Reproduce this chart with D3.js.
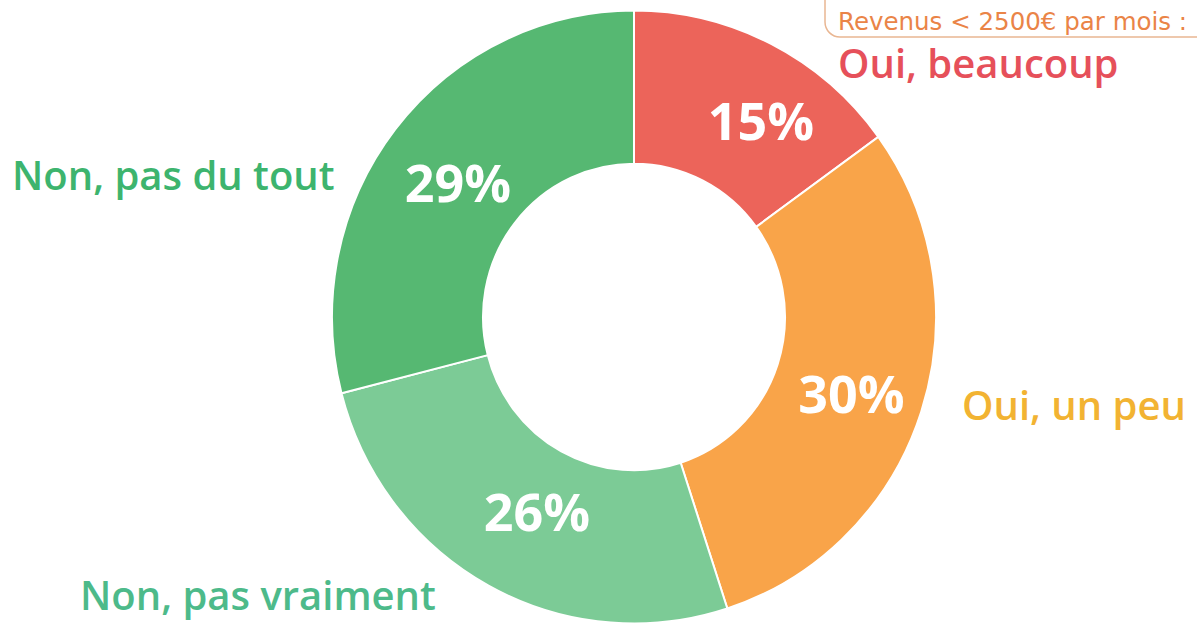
<!DOCTYPE html>
<html>
<head>
<meta charset="utf-8">
<script src="https://cdn.jsdelivr.net/npm/d3@7"></script>
<style>
  body { margin: 0; background: #fff; }
  svg { display: block; }
</style>
</head>
<body>
<div id="chart"></div>
<script>
// donut: "Revenus < 2500€ par mois"
const categories = ["Oui, beaucoup", "Oui, un peu", "Non, pas vraiment", "Non, pas du tout"];
const values = [15, 30, 26, 29];
const title = "Revenus < 2500€ par mois :";

const width = 1197, height = 626;
const cx = 634, cy = 317;
const outerR = 302, innerR = 151;

const sliceColor = d3.scaleOrdinal()
    .domain(categories)
    .range(["#ec645a", "#f9a449", "#7ccb96", "#56b872"]);
const labelColor = d3.scaleOrdinal()
    .domain(categories)
    .range(["#e6505a", "#f2b332", "#4dba8a", "#3db46e"]);

// where the category names sit (x, y baseline)
const labelPos = {
    "Oui, beaucoup": [838, 78],
    "Oui, un peu": [962, 420],
    "Non, pas vraiment": [80, 610],
    "Non, pas du tout": [12, 190]
};
// small hand nudges of the % labels away from the centroid
const pctNudge = {
    "Oui, beaucoup": [24, 6],
    "Oui, un peu": [2, 7],
    "Non, pas vraiment": [12, -3],
    "Non, pas du tout": [3, 5]
};

let svg = d3.select("#chart")
    .append("svg")
    .attr("width", width)
    .attr("height", height);

let g = svg.append("g")
    .attr("transform", `translate(${cx}, ${cy})`);

let pie = d3.pie().sort(null).value(d => d.value);
let arc = d3.arc().innerRadius(innerR).outerRadius(outerR);

let data = categories.map((c, i) => ({name: c, value: values[i]}));
let arcs = pie(data);

// ring is a touch taller than wide in the original
g.append("g")
    .attr("transform", "scale(1, 1.015)")
    .selectAll("path")
    .data(arcs)
    .enter()
    .append("path")
    .attr("d", arc)
    .attr("fill", d => sliceColor(d.data.name))
    .attr("stroke", "#fff")
    .attr("stroke-width", 2);

// percentages inside the ring
g.selectAll(".pct")
    .data(arcs)
    .enter()
    .append("text")
    .attr("class", "pct")
    .attr("transform", d => {
        let c = arc.centroid(d);
        let n = pctNudge[d.data.name];
        return `translate(${c[0] + n[0]}, ${c[1] + n[1]})`;
    })
    .attr("dy", "0.36em")
    .style("text-anchor", "middle")
    .style("font-family", "'Open Sans', sans-serif")
    .style("font-weight", 700)
    .style("font-size", "52px")
    .style("fill", "#fff")
    .text(d => d.data.value + "%");

// category names outside
svg.selectAll(".lbl")
    .data(data)
    .enter()
    .append("text")
    .attr("class", "lbl")
    .attr("x", d => labelPos[d.name][0])
    .attr("y", d => labelPos[d.name][1])
    .style("font-family", "'Open Sans', sans-serif")
    .style("font-weight", 600)
    .style("font-size", "40px")
    .style("fill", d => labelColor(d.name))
    .text(d => d.name);

// title box, top right
svg.append("rect")
    .attr("x", 825)
    .attr("y", -14)
    .attr("width", 400)
    .attr("height", 51)
    .attr("rx", 15)
    .attr("fill", "#fff")
    .attr("stroke", "#e9b692")
    .attr("stroke-width", 1.5);

svg.append("text")
    .attr("x", 838)
    .attr("y", 30)
    .style("font-family", "'DejaVu Sans', sans-serif")
    .style("font-size", "24.5px")
    .style("fill", "#ea8447")
    .text(title);
</script>
</body>
</html>
